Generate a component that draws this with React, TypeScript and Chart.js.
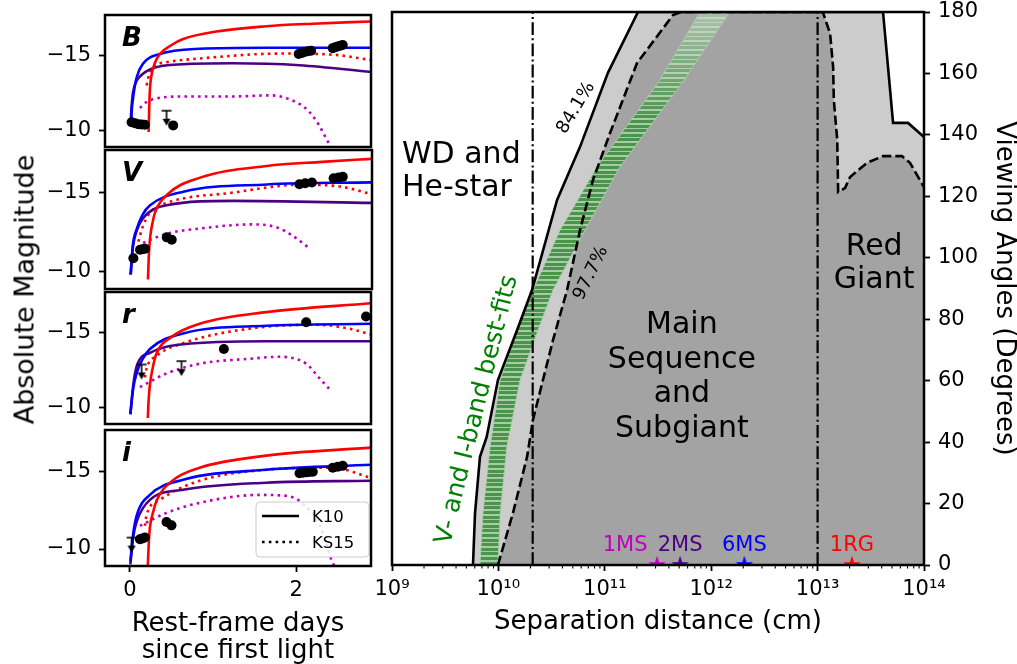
import React, { useEffect, useRef } from 'react';
import { Chart, registerables } from 'chart.js';

Chart.register(...registerables);

const FONT = 'DejaVu Sans';
Chart.defaults.font.family = FONT;
Chart.defaults.color = '#000';

// ================= Left panels: light curves =================
// x = rest-frame days since first light, y = absolute magnitude
const DAY_TICKS = [0, 2];
const MAG_TICKS = [-15, -10];
const BAND_NAMES = ['B', 'V', 'r', 'i'];

// B band
const B_RG_K10 = [[0.225, -9.9], [0.232, -11.5], [0.24, -12.7], [0.26, -13.7], [0.3, -14.5], [0.36, -15.1], [0.5, -15.7], [0.64, -16.1], [1.04, -16.6], [1.64, -16.95], [2.2, -17.12], [2.9, -17.27]];
const B_6MS_K10 = [[0.015, -10.5], [0.025, -11.6], [0.036, -12.1], [0.06, -13.0], [0.084, -13.6], [0.156, -14.45], [0.36, -15.1], [0.84, -15.45], [1.64, -15.52], [2.9, -15.52]];
const B_2MS_K10 = [[0.005, -10.3], [0.02, -11.6], [0.036, -12.5], [0.07, -13.2], [0.12, -13.6], [0.275, -14.15], [0.64, -14.42], [1.23, -14.48], [2.04, -14.35], [2.9, -13.9]];
const B_RG_KS15 = [[0.2, -13.0], [0.215, -13.4], [0.275, -14.2], [0.44, -14.55], [0.84, -14.8], [1.83, -15.13], [2.43, -15.06], [2.9, -14.7]];
const B_1MS_KS15 = [[0.12, -11.5], [0.2, -11.9], [0.275, -12.08], [0.64, -12.27], [1.23, -12.27], [1.71, -12.34], [1.92, -12.08], [2.06, -11.7], [2.16, -11.23], [2.27, -10.4], [2.36, -9.48], [2.45, -8.6]];
const B_OBS = [[0.02, -10.55], [0.06, -10.48], [0.1, -10.42], [0.14, -10.4], [0.18, -10.38], [0.52, -10.34], [2.03, -15.1], [2.07, -15.17], [2.1, -15.23], [2.14, -15.28], [2.18, -15.32], [2.44, -15.49], [2.47, -15.55], [2.5, -15.6], [2.53, -15.65], [2.56, -15.7]];
const B_LIM = [[0.44, -11.32]];

// V band
const V_RG_K10 = [[0.215, -9.5], [0.225, -11.0], [0.24, -12.1], [0.27, -13.1], [0.3, -13.75], [0.44, -14.85], [0.84, -15.95], [1.64, -16.69], [2.3, -16.95], [2.9, -17.14]];
const V_6MS_K10 = [[0.01, -9.85], [0.03, -11.5], [0.084, -12.75], [0.15, -13.6], [0.24, -14.2], [0.64, -15.06], [1.64, -15.52], [2.9, -15.65]];
const V_2MS_K10 = [[0.005, -9.8], [0.036, -11.6], [0.08, -12.6], [0.156, -13.38], [0.44, -14.2], [1.23, -14.48], [2.9, -14.35]];
const V_RG_KS15 = [[0.1, -11.9], [0.15, -12.8], [0.24, -13.75], [0.44, -14.35], [1.23, -15.0], [2.04, -15.5], [2.5, -15.4], [2.9, -14.9]];
const V_1MS_KS15 = [[0.156, -11.82], [0.44, -12.4], [0.84, -12.73], [1.47, -12.99], [1.76, -12.8], [1.95, -12.27], [2.16, -11.43]];
const V_OBS = [[0.04, -10.85], [0.12, -11.38], [0.15, -11.42], [0.18, -11.45], [0.44, -12.17], [0.5, -12.02], [2.03, -15.53], [2.1, -15.6], [2.18, -15.64], [2.44, -15.91], [2.5, -15.96], [2.55, -16.0]];
const V_LIM: number[][] = [];

// r band
const R_RG_K10 = [[0.215, -9.3], [0.225, -10.5], [0.24, -11.5], [0.28, -12.8], [0.32, -13.6], [0.51, -14.74], [0.84, -15.58], [1.64, -16.36], [2.9, -16.95]];
const R_6MS_K10 = [[0.005, -9.55], [0.04, -11.3], [0.084, -12.35], [0.15, -13.2], [0.24, -13.9], [0.64, -14.94], [1.64, -15.45], [2.9, -15.58]];
const R_2MS_K10 = [[0.005, -9.55], [0.04, -11.5], [0.084, -12.8], [0.24, -13.64], [0.64, -14.22], [1.64, -14.42], [2.9, -14.42]];
const R_RG_KS15 = [[0.18, -12.0], [0.2, -12.6], [0.32, -13.44], [0.64, -14.29], [1.44, -15.26], [2.24, -15.52], [2.6, -15.3], [2.9, -14.87]];
const R_1MS_KS15 = [[0.12, -11.36], [0.44, -12.27], [0.84, -12.92], [1.44, -13.25], [1.8, -13.38], [2.12, -12.92], [2.28, -11.95], [2.43, -11.04]];
const R_OBS = [[1.13, -13.9], [2.12, -15.68], [2.84, -16.07]];
const R_LIM = [[0.14, -12.87], [0.62, -13.09]];

// i band
const I_RG_K10 = [[0.215, -8.9], [0.225, -10.2], [0.24, -11.36], [0.28, -12.4], [0.32, -13.12], [0.51, -14.42], [0.84, -15.26], [1.64, -16.04], [2.9, -16.56]];
const I_6MS_K10 = [[0.005, -9.2], [0.04, -11.0], [0.084, -12.2], [0.24, -13.5], [0.64, -14.48], [1.64, -15.13], [2.9, -15.45]];
const I_2MS_K10 = [[0.005, -9.0], [0.04, -10.8], [0.084, -11.82], [0.24, -13.18], [0.64, -13.83], [1.64, -14.29], [2.9, -14.42]];
const I_RG_KS15 = [[0.18, -11.5], [0.2, -12.2], [0.36, -13.18], [0.84, -14.42], [1.64, -15.13], [2.43, -15.26], [2.9, -14.61]];
const I_1MS_KS15 = [[0.12, -11.5], [0.44, -12.34], [0.84, -12.99], [1.56, -13.5], [1.88, -13.44], [2.07, -12.99], [2.28, -11.56], [2.43, -9.22], [2.5, -8.5]];
const I_OBS = [[0.12, -10.63], [0.15, -10.68], [0.18, -10.74], [0.44, -11.75], [0.5, -11.53], [2.04, -14.9], [2.08, -14.93], [2.12, -14.96], [2.16, -14.98], [2.2, -15.0], [2.44, -15.26], [2.5, -15.32], [2.56, -15.38]];
const I_LIM = [[0.02, -10.74]];

// ================= Right panel: separation vs viewing angle =================
const SEP_TICKS = [1e9, 1e10, 1e11, 1e12, 1e13, 1e14];
// 84.1% contour (solid)
const SOLID_X = [5.77e9, 6.03e9, 6.71e9, 7.76e9, 9.9e9, 1.5e10, 2.07e10, 3.56e10, 5.85e10, 1.07e11, 2.05e11, 4.12e13, 5.12e13, 7.08e13, 1e14];
const SOLID_Y = [0, 16.9, 35.2, 41.7, 60.2, 76.5, 89.5, 118.8, 136.1, 160.2, 180, 180, 143.9, 143.9, 139.3];
// 97.7% contour (dashed)
const DASHED_X = [9.9e9, 1.37e10, 1.86e10, 2.11e10, 3.26e10, 4.42e10, 5.85e10, 7.74e10, 1.12e11, 2.01e11, 4.38e11, 5.2e11, 1.12e13, 1.31e13, 1.4e13, 1.42e13, 1.53e13, 1.56e13, 1.81e13, 2.02e13, 2.91e13, 4.12e13, 6.21e13, 7.38e13, 1e14];
const DASHED_Y = [0, 16.9, 35.2, 47.2, 73.2, 89.5, 109.0, 125.3, 140.6, 163.4, 179, 180, 180, 173, 162, 151.4, 138.3, 121.4, 122.7, 126.3, 130.9, 133.1, 133.1, 130.9, 123];
// V- and I-band best-fit band edges
const BAND_LOW_X = [6.71e9, 7.16e9, 8.34e9, 1.04e10, 1.5e10, 2.12e10, 3.79e10, 8.46e10, 3.16e11, 7.85e11];
const BAND_LOW_Y = [0, 16.9, 38.4, 60.2, 76.5, 89.5, 109, 129.6, 156.9, 180];
const BAND_HIGH_X = [9.9e9, 1.04e10, 1.2e10, 1.6e10, 2.36e10, 3.26e10, 6.52e10, 1.39e11, 5.32e11, 1.5e12];
const BAND_HIGH_Y = [0, 16.9, 38.4, 60.2, 76.5, 89.5, 109, 129.6, 156.9, 180];
// companion-type boundaries
const BOUNDARY_X = [2.1e10, 1e13];
// companion models
const STAR_NAMES = ['1MS', '2MS', '6MS', '1RG'];
const STAR_X = [3.1e11, 5.1e11, 2.05e12, 2.1e13];
const STAR_Y = [0, 0, 0, 0];

// ================= styles =================
const RED = '#ff0000';
const BLUE = '#0000ff';
const INDIGO = '#4b0082';
const MAGENTA = '#bf00bf';
const STAR_COLORS = [MAGENTA, INDIGO, BLUE, RED];
const PANEL_TOPS = [12, 150, 289, 427];
const PANEL_BOTTOMS = [150, 289, 427, 566];

const PANEL_SETS = [
  { rg: B_RG_K10, ms6: B_6MS_K10, ms2: B_2MS_K10, rgks: B_RG_KS15, ms1ks: B_1MS_KS15, obs: B_OBS, lim: B_LIM },
  { rg: V_RG_K10, ms6: V_6MS_K10, ms2: V_2MS_K10, rgks: V_RG_KS15, ms1ks: V_1MS_KS15, obs: V_OBS, lim: V_LIM },
  { rg: R_RG_K10, ms6: R_6MS_K10, ms2: R_2MS_K10, rgks: R_RG_KS15, ms1ks: R_1MS_KS15, obs: R_OBS, lim: R_LIM },
  { rg: I_RG_K10, ms6: I_6MS_K10, ms2: I_2MS_K10, rgks: I_RG_KS15, ms1ks: I_1MS_KS15, obs: I_OBS, lim: I_LIM },
];

const toXY = (a: number[][]) => a.map(([x, y]) => ({ x, y }));
const zipXY = (xs: number[], ys: number[]) => xs.map((x, i) => ({ x, y: ys[i] }));
const minus = (v: number) => (v < 0 ? '\u2212' + Math.abs(v) : String(v));
const SUP: Record<string, string> = { '0': '⁰', '1': '¹', '2': '²', '3': '³', '4': '⁴', '5': '⁵', '6': '⁶', '7': '⁷', '8': '⁸', '9': '⁹' };
const pow10Label = (v: number) => '10' + String(Math.round(Math.log10(v))).split('').map((c) => SUP[c]).join('');

function limitMarker() {
  const c = document.createElement('canvas');
  c.width = 14;
  c.height = 32;
  const g = c.getContext('2d')!;
  g.strokeStyle = '#000';
  g.fillStyle = '#000';
  g.lineWidth = 1.6;
  g.beginPath(); g.moveTo(2, 16); g.lineTo(12, 16); g.stroke();
  g.beginPath(); g.moveTo(7, 16); g.lineTo(7, 25); g.stroke();
  g.beginPath(); g.moveTo(3, 24); g.lineTo(11, 24); g.lineTo(7, 31); g.closePath(); g.fill();
  return c;
}

function starMarker(color: string) {
  const c = document.createElement('canvas');
  c.width = 22;
  c.height = 22;
  const g = c.getContext('2d')!;
  g.fillStyle = color;
  g.beginPath();
  const R = 9.2, r = R * 0.382;
  for (let k = 0; k < 10; k++) {
    const rad = k % 2 === 0 ? R : r;
    const a = -Math.PI / 2 + (k * Math.PI) / 5;
    const px = 11 + rad * Math.cos(a), py = 11 + rad * Math.sin(a);
    if (k === 0) g.moveTo(px, py); else g.lineTo(px, py);
  }
  g.closePath();
  g.fill();
  return c;
}

function bandPattern(ctx: CanvasRenderingContext2D, height: number) {
  const c = document.createElement('canvas');
  c.width = 4;
  c.height = height;
  const g = c.getContext('2d')!;
  const period = 4.6;
  for (let y = 0; y < height; y++) {
    const t = Math.min(1, Math.max(0, (y - 20) / 100));
    const dark = y % period < 3.0;
    const m = (a: number, b: number) => Math.round(a + (b - a) * t);
    const col = dark ? [m(165, 76), m(192, 148), m(165, 76)] : [m(198, 166), m(210, 206), m(198, 166)];
    g.fillStyle = `rgb(${col[0]},${col[1]},${col[2]})`;
    g.fillRect(0, y, 4, 1);
  }
  return ctx.createPattern(c, 'repeat');
}

function drawFrame(chart: any) {
  const { ctx, chartArea: a } = chart;
  ctx.save();
  ctx.strokeStyle = '#000';
  ctx.lineWidth = 2.5;
  ctx.strokeRect(a.left, a.top, a.right - a.left, a.bottom - a.top);
  ctx.restore();
}

function text(ctx: CanvasRenderingContext2D, s: string, x: number, y: number, size: number, opts: any = {}) {
  ctx.save();
  ctx.translate(x, y);
  if (opts.rot) ctx.rotate((opts.rot * Math.PI) / 180);
  ctx.font = `${opts.style || ''} ${size}px "${FONT}"`;
  ctx.fillStyle = opts.color || '#000';
  ctx.textAlign = opts.align || 'left';
  ctx.textBaseline = opts.baseline || 'alphabetic';
  ctx.fillText(s, 0, 0);
  ctx.restore();
}

function ChartCanvas({ left, top, width, height, build }: any) {
  const ref = useRef<HTMLCanvasElement>(null);
  useEffect(() => {
    const canvas = ref.current!;
    const chart = new Chart(canvas, build(canvas));
    return () => chart.destroy();
  }, []);
  return (
    <canvas
      ref={ref}
      width={width}
      height={height}
      style={{ position: 'absolute', left, top, width, height, display: 'block' }}
    />
  );
}

const tickFont = { size: 21, family: FONT };

function buildLeftPanel(k: number) {
  return () => {
    const set = PANEL_SETS[k];
    const isLast = k === 3;
    const curve = (d: number[][], color: string, dotted: boolean, order: number) => ({
      data: toXY(d),
      borderColor: color,
      borderWidth: 2.6,
      borderDash: dotted ? [2.6, 4.2] : [],
      borderCapStyle: 'butt',
      pointRadius: 0,
      fill: false,
      cubicInterpolationMode: 'monotone',
      clip: 0,
      order,
    });
    const datasets: any[] = [
      { data: toXY(set.obs), showLine: false, pointRadius: 5, pointBackgroundColor: '#000', pointBorderWidth: 0, clip: 0, order: 0 },
      { data: toXY(set.lim), showLine: false, pointStyle: limitMarker(), pointRadius: 8, clip: 0, order: 0 },
      curve(set.rg, RED, false, 1),
      curve(set.ms6, BLUE, false, 2),
      curve(set.ms2, INDIGO, false, 3),
      curve(set.rgks, RED, true, 4),
      curve(set.ms1ks, MAGENTA, true, 5),
    ];
    const panelPlugin = {
      id: 'panelDecor' + k,
      afterDraw(chart: any) {
        const { ctx, chartArea: a } = chart;
        text(ctx, BAND_NAMES[k], a.left + 17, a.top + 31, 26, { style: 'italic bold' });
        if (isLast) {
          const bx = a.right - 115, by = a.bottom - 64, bw = 113, bh = 55;
          ctx.save();
          ctx.beginPath();
          ctx.roundRect(bx, by, bw, bh, 4);
          ctx.fillStyle = 'rgba(255,255,255,0.85)';
          ctx.fill();
          ctx.strokeStyle = '#cccccc';
          ctx.lineWidth = 1;
          ctx.stroke();
          ctx.strokeStyle = '#000';
          ctx.lineWidth = 2.6;
          ctx.beginPath(); ctx.moveTo(bx + 6, by + 14); ctx.lineTo(bx + 43, by + 14); ctx.stroke();
          ctx.setLineDash([2.6, 4.2]);
          ctx.beginPath(); ctx.moveTo(bx + 6, by + 40); ctx.lineTo(bx + 43, by + 40); ctx.stroke();
          ctx.restore();
          text(ctx, 'K10', bx + 56, by + 20, 16.5);
          text(ctx, 'KS15', bx + 56, by + 46, 16.5);
        }
        drawFrame(chart);
      },
    };
    return {
      type: 'line',
      data: { datasets },
      options: {
        animation: false,
        responsive: false,
        maintainAspectRatio: false,
        events: [],
        layout: { padding: { left: 0, right: 8, top: 6, bottom: isLast ? 0 : 6 } },
        plugins: { legend: { display: false }, tooltip: { enabled: false } },
        scales: {
          x: {
            type: 'linear',
            min: -0.3,
            max: 2.9,
            display: isLast,
            afterBuildTicks: (s: any) => { s.ticks = DAY_TICKS.map((v) => ({ value: v })); },
            afterFit: (s: any) => { s.height = isLast ? 98 : 0; s.paddingLeft = 0; s.paddingRight = 0; },
            grid: { display: true, drawOnChartArea: false, tickLength: 6, tickWidth: 1.8, tickColor: '#000' },
            border: { display: false },
            ticks: { font: tickFont, color: '#000', padding: 6, maxRotation: 0, autoSkip: false },
            title: {
              display: isLast,
              text: ['Rest-frame days', 'since first light'],
              font: { size: 26, lineHeight: 1.04, family: FONT },
              color: '#000',
              padding: { top: 0, bottom: -1 },
            },
          },
          y: {
            type: 'linear',
            reverse: true,
            min: -17.7,
            max: -8.9,
            afterBuildTicks: (s: any) => { s.ticks = MAG_TICKS.map((v) => ({ value: v })); },
            afterFit: (s: any) => { s.width = 105; s.paddingTop = 0; s.paddingBottom = 0; },
            grid: { display: true, drawOnChartArea: false, tickLength: 6, tickWidth: 1.8, tickColor: '#000' },
            border: { display: false },
            ticks: { font: tickFont, color: '#000', padding: 8, callback: (v: number) => minus(v) },
          },
        },
      },
      plugins: [panelPlugin],
    };
  };
}

function buildRight(canvas: HTMLCanvasElement) {
  const ctx0 = canvas.getContext('2d')!;
  const pattern = bandPattern(ctx0, canvas.height);
  const bandPoly = [...zipXY(BAND_LOW_X, BAND_LOW_Y), ...zipXY(BAND_HIGH_X, BAND_HIGH_Y).reverse()];
  const base = { pointRadius: 0, clip: 0, tension: 0 };
  const datasets: any[] = [
    { ...base, data: zipXY(SOLID_X, SOLID_Y), fill: 'start', backgroundColor: '#cccccc', borderWidth: 0, order: 10 },
    { ...base, data: zipXY(DASHED_X, DASHED_Y), fill: 'start', backgroundColor: '#a3a3a3', borderWidth: 0, order: 9 },
    { ...base, data: bandPoly, fill: 'shape', backgroundColor: pattern, borderColor: 'rgba(170,205,170,0.9)', borderWidth: 1, order: 8 },
    { ...base, data: zipXY(SOLID_X, SOLID_Y), fill: false, borderColor: '#000', borderWidth: 2.6, order: 5 },
    { ...base, data: zipXY(DASHED_X, DASHED_Y), fill: false, borderColor: '#000', borderWidth: 2.6, borderDash: [9.5, 4], order: 5 },
    ...BOUNDARY_X.map((bx) => ({
      ...base,
      data: [{ x: bx, y: 0 }, { x: bx, y: 180 }],
      fill: false,
      borderColor: '#000',
      borderWidth: 2.2,
      borderDash: [12.8, 3.2, 2, 3.2],
      order: 4,
    })),
    ...STAR_X.map((sx, i) => ({
      data: [{ x: sx, y: STAR_Y[i] }],
      showLine: false,
      pointStyle: starMarker(STAR_COLORS[i]),
      pointRadius: 10,
      clip: 0,
      order: 1,
    })),
  ];
  const decor = {
    id: 'rightDecor',
    afterDraw(chart: any) {
      const { ctx, chartArea: a, scales } = chart;
      const X = (v: number) => scales.x.getPixelForValue(v);
      const Y = (v: number) => scales.y.getPixelForValue(v);
      // minor ticks on log axis
      ctx.save();
      ctx.strokeStyle = '#000';
      ctx.lineWidth = 1.1;
      for (let e = 9; e < 14; e++) {
        for (let m = 2; m <= 9; m++) {
          const px = X(m * Math.pow(10, e));
          ctx.beginPath();
          ctx.moveTo(px, a.bottom);
          ctx.lineTo(px, a.bottom + 3.5);
          ctx.stroke();
        }
      }
      ctx.restore();
      // region labels
      text(ctx, 'WD and', X(1.24e9), Y(131), 30);
      text(ctx, 'He-star', X(1.24e9), Y(120), 30);
      ['Main', 'Sequence', 'and', 'Subgiant'].forEach((s, i) =>
        text(ctx, s, X(5.3e11), Y([75.5, 64.1, 53.1, 41.7][i]), 30, { align: 'center' })
      );
      text(ctx, 'Red', X(3.4e13), Y(100.9), 30, { align: 'center' });
      text(ctx, 'Giant', X(3.4e13), Y(90.2), 30, { align: 'center' });
      text(ctx, '84.1%', X(5.36e10), Y(148.8), 18, { align: 'center', baseline: 'middle', rot: -59 });
      text(ctx, '97.7%', X(7.41e10), Y(95), 18, { align: 'center', baseline: 'middle', rot: -64 });
      text(ctx, 'V- and I-band best-fits', X(6.3e9), Y(50.5), 25, { align: 'center', baseline: 'middle', rot: -76, color: '#008000' });
      const shift = [-32, 0, 0, 0];
      STAR_NAMES.forEach((s, i) =>
        text(ctx, s, X(STAR_X[i]) + shift[i], Y(4.6), 21, { align: 'center', color: STAR_COLORS[i] })
      );
      drawFrame(chart);
    },
  };
  return {
    type: 'line',
    data: { datasets },
    options: {
      animation: false,
      responsive: false,
      maintainAspectRatio: false,
      events: [],
      layout: { padding: { left: 32, right: 0, top: 12, bottom: 0 } },
      plugins: { legend: { display: false }, tooltip: { enabled: false } },
      scales: {
        x: {
          type: 'logarithmic',
          min: 1e9,
          max: 1e14,
          afterBuildTicks: (s: any) => { s.ticks = SEP_TICKS.map((v) => ({ value: v, major: true })); },
          afterFit: (s: any) => { s.height = 99; s.paddingLeft = 0; s.paddingRight = 0; },
          grid: { display: true, drawOnChartArea: false, tickLength: 6, tickWidth: 1.8, tickColor: '#000' },
          border: { display: false },
          ticks: { font: tickFont, color: '#000', padding: 6, maxRotation: 0, autoSkip: false, callback: (v: number) => pow10Label(v) },
          title: {
            display: true,
            text: 'Separation distance (cm)',
            font: { size: 26, lineHeight: 1.04, family: FONT },
            color: '#000',
            padding: { top: 0, bottom: 28 },
          },
        },
        y: {
          type: 'linear',
          position: 'right',
          min: 0,
          max: 180,
          afterFit: (s: any) => { s.width = 93; s.paddingTop = 0; s.paddingBottom = 0; },
          grid: { display: true, drawOnChartArea: false, tickLength: 6, tickWidth: 1.8, tickColor: '#000' },
          border: { display: false },
          ticks: { font: tickFont, color: '#000', padding: 8, stepSize: 20 },
          title: {
            display: true,
            text: 'Viewing Angles (Degrees)',
            font: { size: 26, lineHeight: 1.04, family: FONT },
            color: '#000',
            padding: { top: 0, bottom: 0 },
          },
        },
      },
    },
    plugins: [decor],
  };
}

export default function App() {
  return (
    <div style={{ position: 'absolute', left: 0, top: 0, width: 1017, height: 664, background: '#fff', overflow: 'hidden' }}>
      {PANEL_TOPS.map((t, k) => {
        const isLast = k === 3;
        const top = t - 6;
        const height = isLast ? 664 - top : PANEL_BOTTOMS[k] - t + 12;
        return <ChartCanvas key={k} left={0} top={top} width={380} height={height} build={buildLeftPanel(k)} />;
      })}
      <ChartCanvas left={360} top={0} width={657} height={664} build={buildRight} />
      <div
        style={{
          position: 'absolute',
          left: 24 - 200,
          top: 289 - 13.5,
          width: 400,
          height: 27,
          lineHeight: '27px',
          fontSize: 27,
          fontFamily: FONT,
          textAlign: 'center',
          whiteSpace: 'nowrap',
          transform: 'rotate(-90deg)',
          color: '#000',
        }}
      >
        Absolute Magnitude
      </div>
    </div>
  );
}
